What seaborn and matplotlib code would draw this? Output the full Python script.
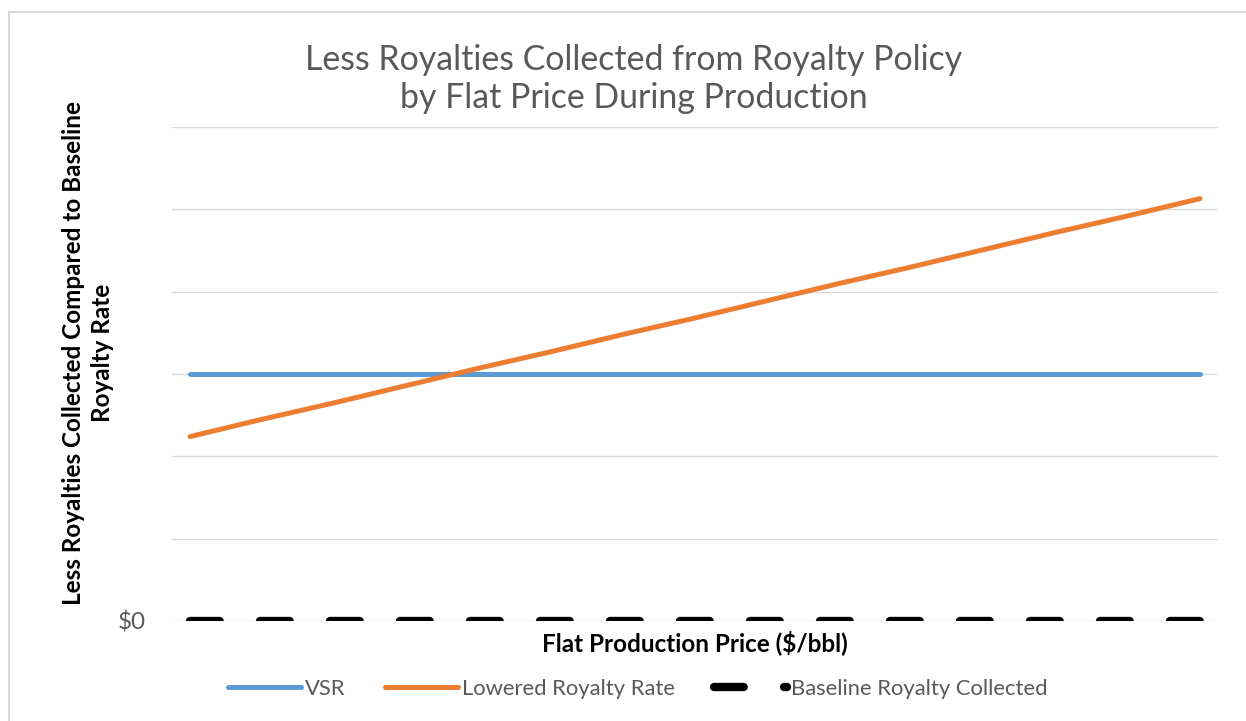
import matplotlib
matplotlib.use("Agg")
import matplotlib.pyplot as plt
import seaborn as sns
import pandas as pd
from matplotlib.lines import Line2D

prices = [10, 20, 30, 40, 50, 60, 70, 80, 90, 100, 110, 120, 130, 140, 150]
vsr = [3.0] * 15
lowered = [2.24, 2.45, 2.65, 2.86, 3.07, 3.27, 3.48, 3.68, 3.89, 4.10, 4.30, 4.51, 4.72, 4.92, 5.13]
baseline = [0.0] * 15

title = "Less Royalties Collected from Royalty Policy\nby Flat Price During Production"
ylabel = "Less Royalties Collected Compared to Baseline\nRoyalty Rate"
xlabel = "Flat Production Price ($/bbl)"
series_names = ["VSR", "Lowered Royalty Rate", "Baseline Royalty Collected"]

sns.set_theme(style="white")
plt.rcParams['font.family'] = ['Lato', 'DejaVu Sans']

W, H = 1246, 721
fig = plt.figure(figsize=(W / 100, H / 100), dpi=100)
ax = fig.add_axes([172 / W, 1 - 621 / H, (1218 - 172) / W, (621 - 127) / H])

df = pd.DataFrame({"price": prices, "VSR": vsr, "Lowered": lowered, "Base": baseline})

DASH = (3.56, 4.84)

# gridlines
for g in range(0, 7):
    ax.axhline(g, color="#D9D9D9", lw=1.0, zorder=0)

sns.lineplot(data=df, x="price", y="Base", ax=ax, color="black", lw=6,
             zorder=3, legend=False)
base_line = ax.lines[-1]
base_line.set_dashes(DASH)
base_line.set_dash_capstyle("round")
sns.lineplot(data=df, x="price", y="VSR", ax=ax, color="#5B9BD5", lw=3.6,
             zorder=2, legend=False)
ax.lines[-1].set_solid_capstyle("round")
sns.lineplot(data=df, x="price", y="Lowered", ax=ax, color="#ED7D31", lw=3.6,
             zorder=2, legend=False)
ax.lines[-1].set_solid_capstyle("round")

ax.set_xlim(7.5, 152.5)
ax.set_ylim(0, 6)
for s in ax.spines.values():
    s.set_visible(False)
ax.set_xticks([])
ax.set_yticks([0])
ax.set_yticklabels(["$0"], color="#595959", fontsize=17.5)
ax.tick_params(axis="y", length=0, pad=18.5)

ax.set_xlabel("")
ax.set_ylabel("")
fig.text(695 / W, 1 - 643 / H, xlabel, ha="center", va="center", fontsize=17.5,
         fontweight="bold", color="black")
fig.text(88 / W, 1 - 353 / H, ylabel, ha="center", va="center", rotation=90,
         multialignment="center", fontsize=17.5, fontweight="bold", color="black",
         linespacing=1.35)

fig.text(633.5 / W, 1 - 79 / H, title, ha="center", va="center", fontsize=24.4,
         color="#595959", linespacing=1.25)

handles = [
    Line2D([], [], color="#5B9BD5", lw=3.6, solid_capstyle="round"),
    Line2D([], [], color="#ED7D31", lw=3.6, solid_capstyle="round"),
    Line2D([], [], color="black", lw=6, dashes=DASH, dash_capstyle="round"),
]
leg = fig.legend(handles, series_names, loc="center", bbox_to_anchor=(638 / W, 1 - 689 / H),
                 ncol=3, frameon=False, fontsize=15.8, handlelength=3.3, columnspacing=1.8,
                 handletextpad=0.2)
for t in leg.get_texts():
    t.set_color("#595959")

# outer chart border (left and top visible)
fig.add_artist(Line2D([8.5 / W, 8.5 / W, 1.0], [0, 1 - 11.5 / H, 1 - 11.5 / H],
                      transform=fig.transFigure, color="#D9D9D9", lw=1.5))

fig.savefig("out.png", dpi=100)
